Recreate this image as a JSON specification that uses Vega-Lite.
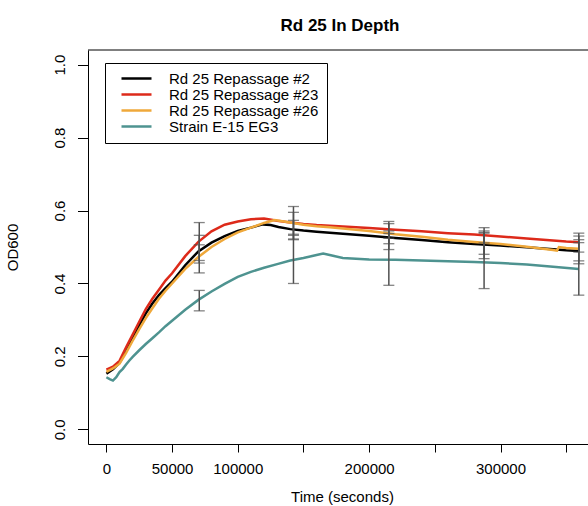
{
  "$schema": "https://vega.github.io/schema/vega-lite/v6.json",
  "width": 500,
  "height": 394,
  "autosize": "none",
  "padding": {"left": 88, "top": 50, "right": 0, "bottom": 62},
  "background": "white",
  "title": {"text": "Rd 25 In Depth", "fontSize": 17, "fontWeight": "bold", "font": "Liberation Sans", "offset": 15, "anchor": "middle", "dx": 2, "color": "black"},
  "config": {
    "font": "Liberation Sans",
    "view": {"stroke": null},
    "axis": {"domainColor": "black", "tickColor": "black", "labelColor": "black", "titleColor": "black", "labelFont": "Liberation Sans", "titleFont": "Liberation Sans", "labelFontSize": 15, "titleFontSize": 15, "titleFontWeight": "normal", "grid": false, "domainWidth": 1, "tickWidth": 1}
  },
  "datasets": {
    "lines": [
      {"s": "Rd 25 Repassage #2", "t": 0, "v": 0.153}, {"s": "Rd 25 Repassage #2", "t": 5000, "v": 0.165}, {"s": "Rd 25 Repassage #2", "t": 10000, "v": 0.183}, {"s": "Rd 25 Repassage #2", "t": 15000, "v": 0.215}, {"s": "Rd 25 Repassage #2", "t": 20000, "v": 0.25}, {"s": "Rd 25 Repassage #2", "t": 25000, "v": 0.285}, {"s": "Rd 25 Repassage #2", "t": 30000, "v": 0.318}, {"s": "Rd 25 Repassage #2", "t": 35000, "v": 0.345}, {"s": "Rd 25 Repassage #2", "t": 40000, "v": 0.368}, {"s": "Rd 25 Repassage #2", "t": 45000, "v": 0.387}, {"s": "Rd 25 Repassage #2", "t": 50000, "v": 0.405}, {"s": "Rd 25 Repassage #2", "t": 60000, "v": 0.45}, {"s": "Rd 25 Repassage #2", "t": 70000, "v": 0.488}, {"s": "Rd 25 Repassage #2", "t": 80000, "v": 0.512}, {"s": "Rd 25 Repassage #2", "t": 90000, "v": 0.53}, {"s": "Rd 25 Repassage #2", "t": 100000, "v": 0.544}, {"s": "Rd 25 Repassage #2", "t": 110000, "v": 0.553}, {"s": "Rd 25 Repassage #2", "t": 119000, "v": 0.562}, {"s": "Rd 25 Repassage #2", "t": 125000, "v": 0.56}, {"s": "Rd 25 Repassage #2", "t": 131000, "v": 0.555}, {"s": "Rd 25 Repassage #2", "t": 140000, "v": 0.549}, {"s": "Rd 25 Repassage #2", "t": 150000, "v": 0.545}, {"s": "Rd 25 Repassage #2", "t": 160000, "v": 0.542}, {"s": "Rd 25 Repassage #2", "t": 170000, "v": 0.539}, {"s": "Rd 25 Repassage #2", "t": 180000, "v": 0.536}, {"s": "Rd 25 Repassage #2", "t": 200000, "v": 0.531}, {"s": "Rd 25 Repassage #2", "t": 220000, "v": 0.525}, {"s": "Rd 25 Repassage #2", "t": 240000, "v": 0.519}, {"s": "Rd 25 Repassage #2", "t": 260000, "v": 0.513}, {"s": "Rd 25 Repassage #2", "t": 280000, "v": 0.508}, {"s": "Rd 25 Repassage #2", "t": 300000, "v": 0.504}, {"s": "Rd 25 Repassage #2", "t": 320000, "v": 0.499}, {"s": "Rd 25 Repassage #2", "t": 340000, "v": 0.494}, {"s": "Rd 25 Repassage #2", "t": 350000, "v": 0.491}, {"s": "Rd 25 Repassage #2", "t": 359600, "v": 0.489},
      {"s": "Rd 25 Repassage #23", "t": 0, "v": 0.164}, {"s": "Rd 25 Repassage #23", "t": 5000, "v": 0.172}, {"s": "Rd 25 Repassage #23", "t": 10000, "v": 0.188}, {"s": "Rd 25 Repassage #23", "t": 15000, "v": 0.225}, {"s": "Rd 25 Repassage #23", "t": 20000, "v": 0.26}, {"s": "Rd 25 Repassage #23", "t": 25000, "v": 0.295}, {"s": "Rd 25 Repassage #23", "t": 30000, "v": 0.33}, {"s": "Rd 25 Repassage #23", "t": 35000, "v": 0.358}, {"s": "Rd 25 Repassage #23", "t": 40000, "v": 0.383}, {"s": "Rd 25 Repassage #23", "t": 45000, "v": 0.408}, {"s": "Rd 25 Repassage #23", "t": 50000, "v": 0.428}, {"s": "Rd 25 Repassage #23", "t": 60000, "v": 0.475}, {"s": "Rd 25 Repassage #23", "t": 70000, "v": 0.514}, {"s": "Rd 25 Repassage #23", "t": 80000, "v": 0.543}, {"s": "Rd 25 Repassage #23", "t": 90000, "v": 0.561}, {"s": "Rd 25 Repassage #23", "t": 100000, "v": 0.57}, {"s": "Rd 25 Repassage #23", "t": 110000, "v": 0.576}, {"s": "Rd 25 Repassage #23", "t": 120000, "v": 0.578}, {"s": "Rd 25 Repassage #23", "t": 130000, "v": 0.572}, {"s": "Rd 25 Repassage #23", "t": 140000, "v": 0.567}, {"s": "Rd 25 Repassage #23", "t": 150000, "v": 0.563}, {"s": "Rd 25 Repassage #23", "t": 160000, "v": 0.56}, {"s": "Rd 25 Repassage #23", "t": 170000, "v": 0.558}, {"s": "Rd 25 Repassage #23", "t": 180000, "v": 0.556}, {"s": "Rd 25 Repassage #23", "t": 200000, "v": 0.552}, {"s": "Rd 25 Repassage #23", "t": 220000, "v": 0.547}, {"s": "Rd 25 Repassage #23", "t": 240000, "v": 0.543}, {"s": "Rd 25 Repassage #23", "t": 260000, "v": 0.538}, {"s": "Rd 25 Repassage #23", "t": 280000, "v": 0.534}, {"s": "Rd 25 Repassage #23", "t": 300000, "v": 0.529}, {"s": "Rd 25 Repassage #23", "t": 320000, "v": 0.523}, {"s": "Rd 25 Repassage #23", "t": 340000, "v": 0.518}, {"s": "Rd 25 Repassage #23", "t": 350000, "v": 0.515}, {"s": "Rd 25 Repassage #23", "t": 359600, "v": 0.513},
      {"s": "Rd 25 Repassage #26", "t": 0, "v": 0.158}, {"s": "Rd 25 Repassage #26", "t": 5000, "v": 0.167}, {"s": "Rd 25 Repassage #26", "t": 10000, "v": 0.18}, {"s": "Rd 25 Repassage #26", "t": 15000, "v": 0.21}, {"s": "Rd 25 Repassage #26", "t": 20000, "v": 0.243}, {"s": "Rd 25 Repassage #26", "t": 25000, "v": 0.275}, {"s": "Rd 25 Repassage #26", "t": 30000, "v": 0.305}, {"s": "Rd 25 Repassage #26", "t": 35000, "v": 0.332}, {"s": "Rd 25 Repassage #26", "t": 40000, "v": 0.358}, {"s": "Rd 25 Repassage #26", "t": 45000, "v": 0.38}, {"s": "Rd 25 Repassage #26", "t": 50000, "v": 0.4}, {"s": "Rd 25 Repassage #26", "t": 60000, "v": 0.44}, {"s": "Rd 25 Repassage #26", "t": 70000, "v": 0.4725}, {"s": "Rd 25 Repassage #26", "t": 80000, "v": 0.5}, {"s": "Rd 25 Repassage #26", "t": 90000, "v": 0.522}, {"s": "Rd 25 Repassage #26", "t": 100000, "v": 0.54}, {"s": "Rd 25 Repassage #26", "t": 110000, "v": 0.553}, {"s": "Rd 25 Repassage #26", "t": 120000, "v": 0.566}, {"s": "Rd 25 Repassage #26", "t": 128000, "v": 0.574}, {"s": "Rd 25 Repassage #26", "t": 140000, "v": 0.567}, {"s": "Rd 25 Repassage #26", "t": 150000, "v": 0.561}, {"s": "Rd 25 Repassage #26", "t": 160000, "v": 0.557}, {"s": "Rd 25 Repassage #26", "t": 170000, "v": 0.554}, {"s": "Rd 25 Repassage #26", "t": 180000, "v": 0.551}, {"s": "Rd 25 Repassage #26", "t": 200000, "v": 0.544}, {"s": "Rd 25 Repassage #26", "t": 220000, "v": 0.535}, {"s": "Rd 25 Repassage #26", "t": 240000, "v": 0.528}, {"s": "Rd 25 Repassage #26", "t": 260000, "v": 0.52}, {"s": "Rd 25 Repassage #26", "t": 280000, "v": 0.514}, {"s": "Rd 25 Repassage #26", "t": 300000, "v": 0.508}, {"s": "Rd 25 Repassage #26", "t": 320000, "v": 0.501}, {"s": "Rd 25 Repassage #26", "t": 340000, "v": 0.492}, {"s": "Rd 25 Repassage #26", "t": 343000, "v": 0.49}, {"s": "Rd 25 Repassage #26", "t": 344500, "v": 0.5}, {"s": "Rd 25 Repassage #26", "t": 350000, "v": 0.497}, {"s": "Rd 25 Repassage #26", "t": 359600, "v": 0.495},
      {"s": "Strain E-15 EG3", "t": 0, "v": 0.143}, {"s": "Strain E-15 EG3", "t": 2500, "v": 0.138}, {"s": "Strain E-15 EG3", "t": 5000, "v": 0.134}, {"s": "Strain E-15 EG3", "t": 7500, "v": 0.143}, {"s": "Strain E-15 EG3", "t": 10000, "v": 0.157}, {"s": "Strain E-15 EG3", "t": 12500, "v": 0.166}, {"s": "Strain E-15 EG3", "t": 15000, "v": 0.178}, {"s": "Strain E-15 EG3", "t": 17500, "v": 0.189}, {"s": "Strain E-15 EG3", "t": 20000, "v": 0.199}, {"s": "Strain E-15 EG3", "t": 25000, "v": 0.217}, {"s": "Strain E-15 EG3", "t": 30000, "v": 0.234}, {"s": "Strain E-15 EG3", "t": 35000, "v": 0.25}, {"s": "Strain E-15 EG3", "t": 40000, "v": 0.266}, {"s": "Strain E-15 EG3", "t": 45000, "v": 0.283}, {"s": "Strain E-15 EG3", "t": 50000, "v": 0.298}, {"s": "Strain E-15 EG3", "t": 60000, "v": 0.328}, {"s": "Strain E-15 EG3", "t": 70000, "v": 0.355}, {"s": "Strain E-15 EG3", "t": 80000, "v": 0.378}, {"s": "Strain E-15 EG3", "t": 90000, "v": 0.399}, {"s": "Strain E-15 EG3", "t": 100000, "v": 0.418}, {"s": "Strain E-15 EG3", "t": 110000, "v": 0.432}, {"s": "Strain E-15 EG3", "t": 120000, "v": 0.443}, {"s": "Strain E-15 EG3", "t": 130000, "v": 0.453}, {"s": "Strain E-15 EG3", "t": 140000, "v": 0.463}, {"s": "Strain E-15 EG3", "t": 150000, "v": 0.47}, {"s": "Strain E-15 EG3", "t": 160000, "v": 0.478}, {"s": "Strain E-15 EG3", "t": 165000, "v": 0.482}, {"s": "Strain E-15 EG3", "t": 170000, "v": 0.478}, {"s": "Strain E-15 EG3", "t": 180000, "v": 0.47}, {"s": "Strain E-15 EG3", "t": 200000, "v": 0.466}, {"s": "Strain E-15 EG3", "t": 220000, "v": 0.465}, {"s": "Strain E-15 EG3", "t": 240000, "v": 0.463}, {"s": "Strain E-15 EG3", "t": 260000, "v": 0.461}, {"s": "Strain E-15 EG3", "t": 280000, "v": 0.459}, {"s": "Strain E-15 EG3", "t": 300000, "v": 0.456}, {"s": "Strain E-15 EG3", "t": 320000, "v": 0.452}, {"s": "Strain E-15 EG3", "t": 340000, "v": 0.446}, {"s": "Strain E-15 EG3", "t": 359600, "v": 0.44}
    ],
    "err": [
      {"s": "Rd 25 Repassage #23", "t": 70700, "lo": 0.463, "hi": 0.567}, {"s": "Rd 25 Repassage #2", "t": 70700, "lo": 0.456, "hi": 0.532}, {"s": "Rd 25 Repassage #26", "t": 70700, "lo": 0.429, "hi": 0.506}, {"s": "Strain E-15 EG3", "t": 70700, "lo": 0.325, "hi": 0.381},
      {"s": "Rd 25 Repassage #23", "t": 142400, "lo": 0.52, "hi": 0.611}, {"s": "Rd 25 Repassage #2", "t": 142400, "lo": 0.522, "hi": 0.573}, {"s": "Rd 25 Repassage #26", "t": 142400, "lo": 0.535, "hi": 0.595}, {"s": "Strain E-15 EG3", "t": 142400, "lo": 0.4, "hi": 0.532},
      {"s": "Rd 25 Repassage #23", "t": 215000, "lo": 0.524, "hi": 0.57}, {"s": "Rd 25 Repassage #2", "t": 215000, "lo": 0.493, "hi": 0.564}, {"s": "Rd 25 Repassage #26", "t": 215000, "lo": 0.509, "hi": 0.544}, {"s": "Strain E-15 EG3", "t": 215000, "lo": 0.395, "hi": 0.537},
      {"s": "Rd 25 Repassage #23", "t": 287500, "lo": 0.511, "hi": 0.553}, {"s": "Rd 25 Repassage #2", "t": 287500, "lo": 0.468, "hi": 0.538}, {"s": "Rd 25 Repassage #26", "t": 287500, "lo": 0.48, "hi": 0.544}, {"s": "Strain E-15 EG3", "t": 287500, "lo": 0.386, "hi": 0.54},
      {"s": "Rd 25 Repassage #23", "t": 359600, "lo": 0.486, "hi": 0.538}, {"s": "Rd 25 Repassage #2", "t": 359600, "lo": 0.462, "hi": 0.52}, {"s": "Rd 25 Repassage #26", "t": 359600, "lo": 0.454, "hi": 0.53}, {"s": "Strain E-15 EG3", "t": 359600, "lo": 0.368, "hi": 0.512}
    ]
  },
  "layer": [
    {
      "data": {"name": "lines"},
      "mark": {"type": "line", "strokeWidth": 2.5, "clip": true},
      "encoding": {
        "x": {"field": "t", "type": "quantitative", "title": "Time (seconds)",
          "scale": {"domain": [-14000, 366600], "nice": false, "zero": false},
          "axis": {"values": [0, 50000, 100000, 150000, 200000, 250000, 300000, 350000], "format": "d",
            "labelExpr": "(datum.value == 150000 || datum.value == 250000 || datum.value == 350000) ? '' : datum.label",
            "tickSize": 8, "labelPadding": 9.5, "labelBaseline": "top", "labelAlign": "center", "labelFlush": false, "labelOverlap": false,
            "titleX": 254, "titleY": 57.5, "titleBaseline": "alphabetic", "titleAlign": "center", "titleAnchor": null}},
        "y": {"field": "v", "type": "quantitative", "title": "OD600",
          "scale": {"domain": [-0.04, 1.04], "nice": false, "zero": false},
          "axis": {"values": [0, 0.2, 0.4, 0.6, 0.8, 1.0], "format": ".1f", "labelAngle": 270, "labelAlign": "center", "labelBaseline": "alphabetic",
            "tickSize": 10.5, "labelPadding": 13.5, "labelFlush": false, "labelOverlap": false,
            "titleAngle": 270, "titleX": -71, "titleY": 197, "titleAlign": "center", "titleBaseline": "alphabetic"}},
        "color": {"field": "s", "type": "nominal",
          "scale": {"domain": ["Rd 25 Repassage #2", "Rd 25 Repassage #23", "Rd 25 Repassage #26", "Strain E-15 EG3"], "range": ["#000000", "#DD2A1A", "#EFA83A", "#4E9390"]},
          "legend": {"orient": "none", "legendX": 17, "legendY": 13, "title": null, "symbolType": "stroke", "symbolSize": 900, "symbolStrokeWidth": 2.5,
            "clipHeight": 15, "rowPadding": 0, "padding": 8, "symbolOffset": 7, "labelOffset": 16, "labelFontSize": 15, "labelFont": "Liberation Sans",
            "labelColor": "black", "strokeColor": "black", "fillColor": "white"}}
      }
    },
    {
      "data": {"name": "err"},
      "mark": {"type": "rule", "color": "#505050", "strokeWidth": 1.5},
      "encoding": {
        "x": {"field": "t", "type": "quantitative", "title": "Time (seconds)", "scale": {"domain": [-14000, 366600], "nice": false, "zero": false}},
        "y": {"field": "lo", "type": "quantitative", "title": "OD600", "scale": {"domain": [-0.04, 1.04], "nice": false, "zero": false}},
        "y2": {"field": "hi"}
      }
    },
    {
      "data": {"name": "err"},
      "mark": {"type": "tick", "orient": "horizontal", "size": 11, "thickness": 1.3, "color": "#505050"},
      "encoding": {
        "x": {"field": "t", "type": "quantitative", "title": "Time (seconds)"},
        "y": {"field": "lo", "type": "quantitative", "title": "OD600"}
      }
    },
    {
      "data": {"name": "err"},
      "mark": {"type": "tick", "orient": "horizontal", "size": 11, "thickness": 1.3, "color": "#505050"},
      "encoding": {
        "x": {"field": "t", "type": "quantitative", "title": "Time (seconds)"},
        "y": {"field": "hi", "type": "quantitative", "title": "OD600"}
      }
    },
    {
      "data": {"values": [{}]},
      "mark": {"type": "rule", "color": "black", "strokeWidth": 1},
      "encoding": {"y": {"datum": 1.04, "type": "quantitative"}}
    }
  ]
}
